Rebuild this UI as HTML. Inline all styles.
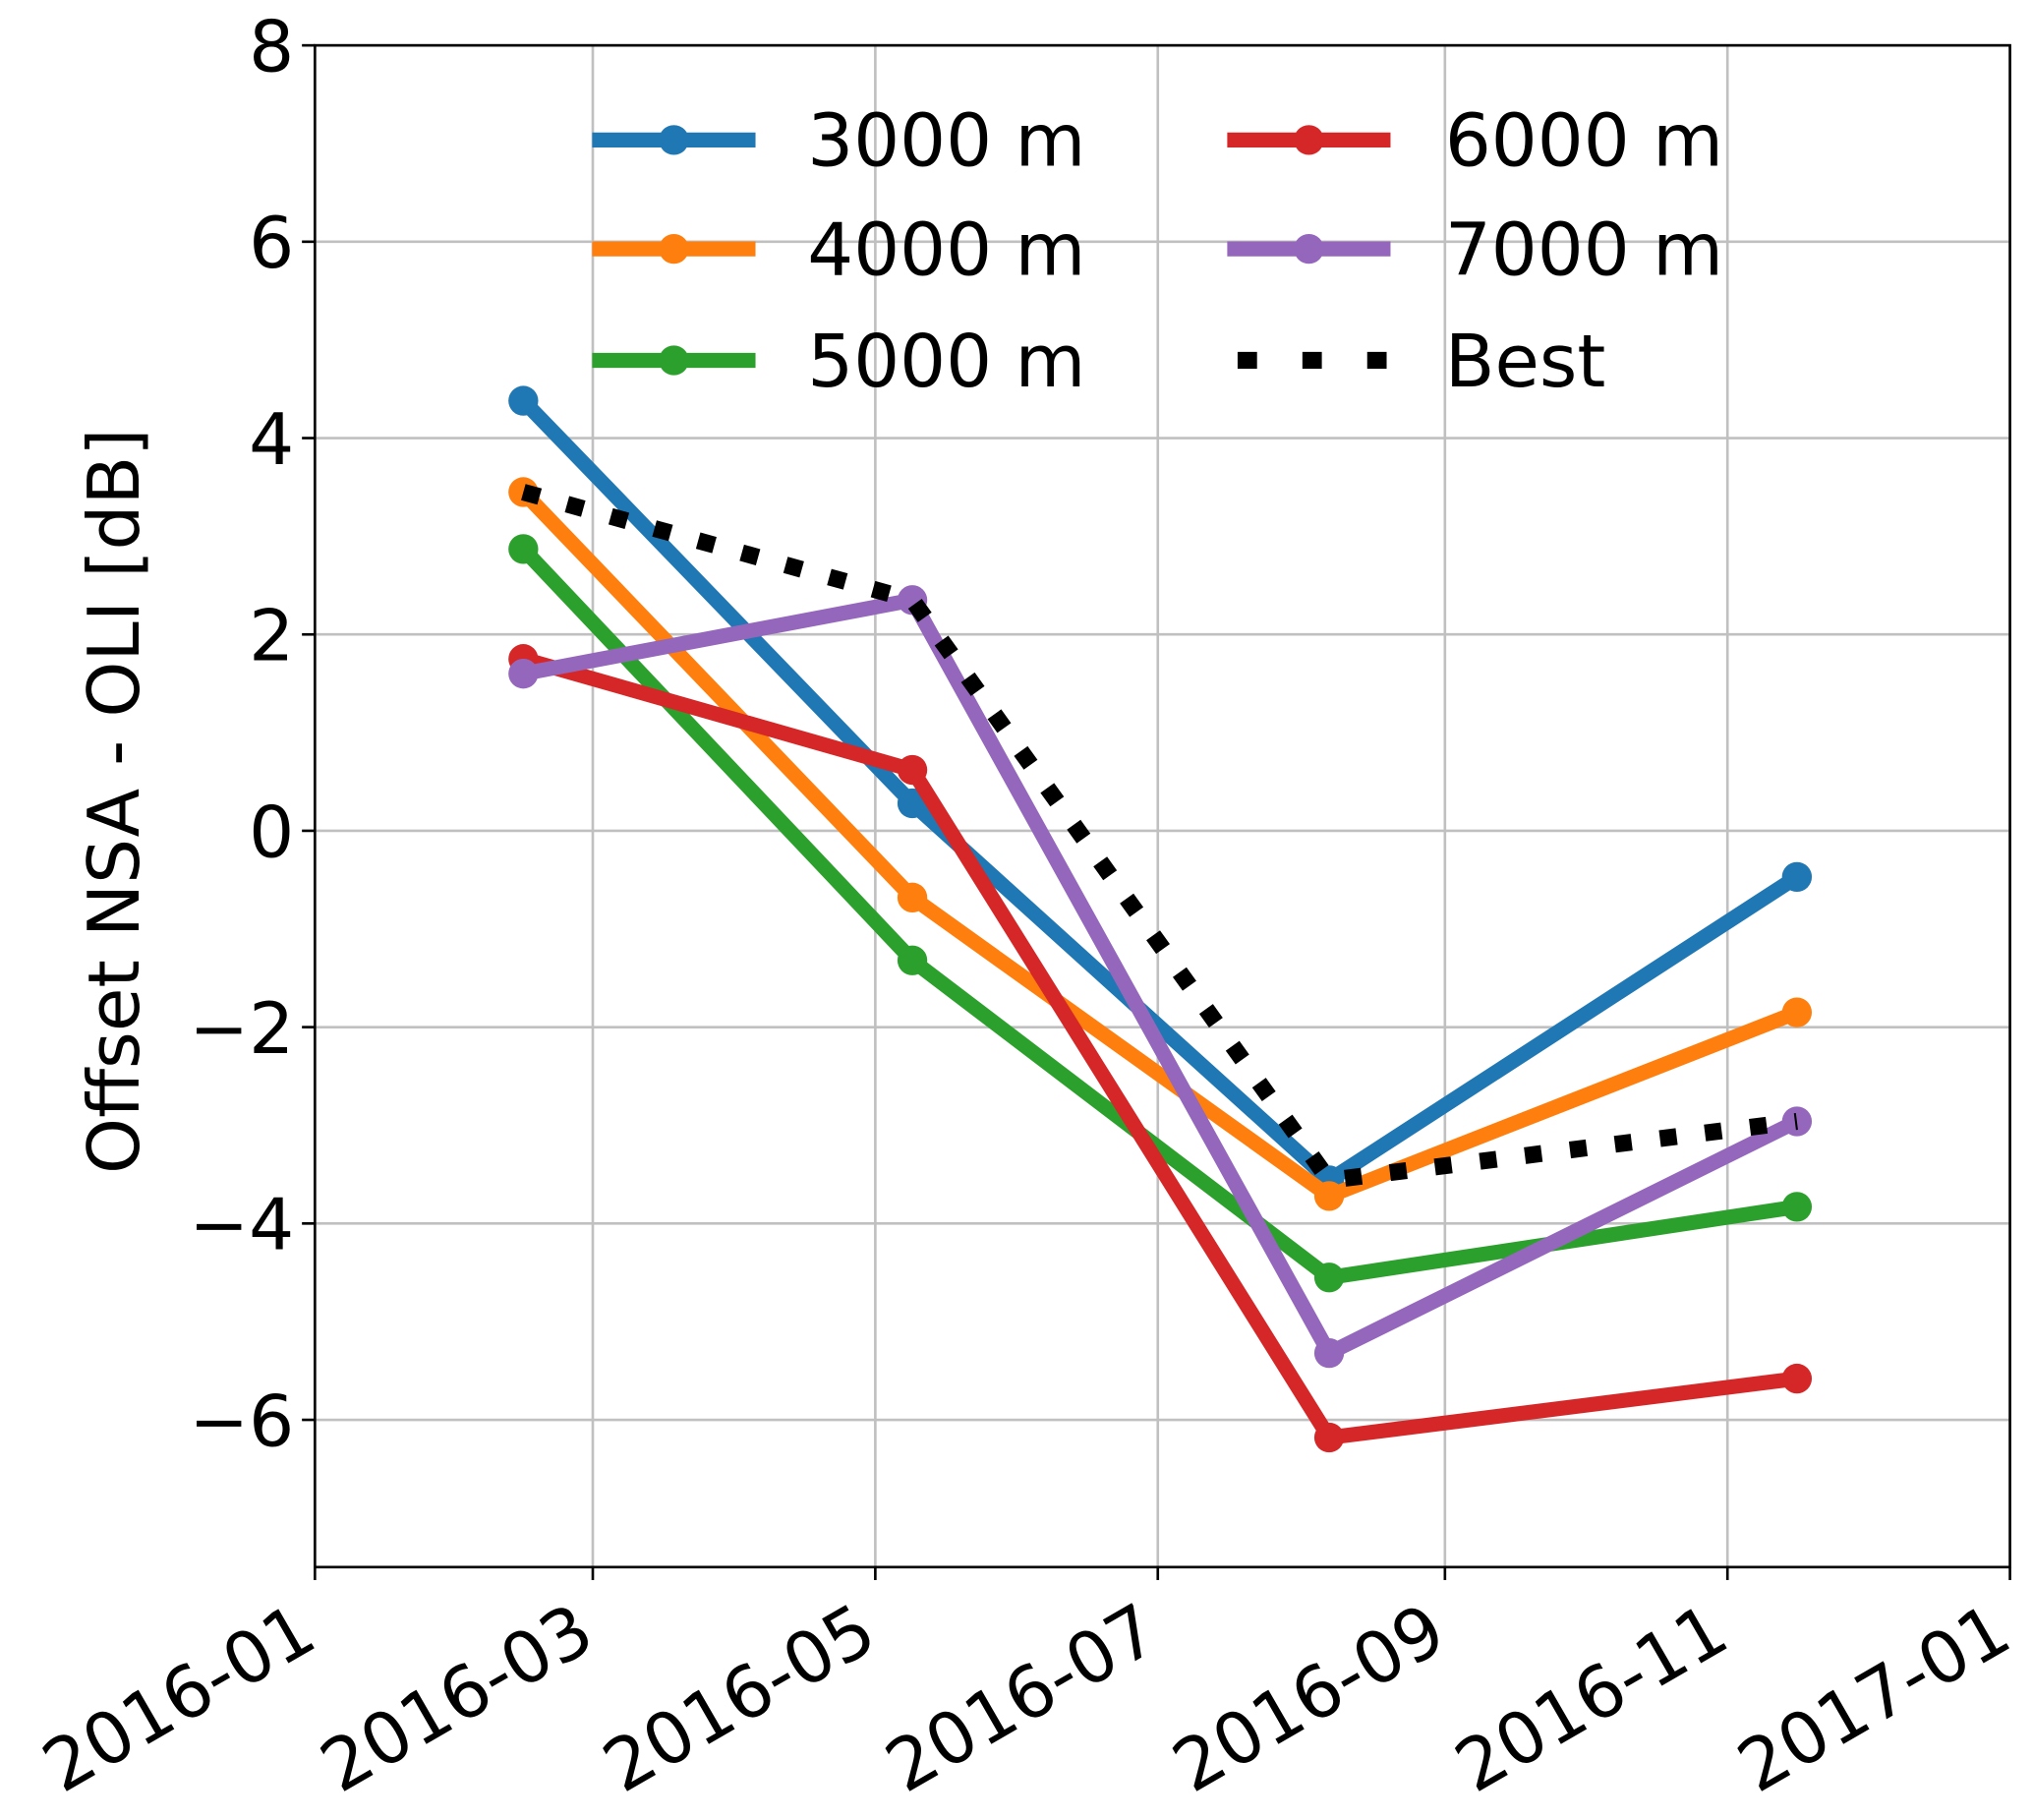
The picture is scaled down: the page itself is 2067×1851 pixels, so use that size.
<!DOCTYPE html>
<html><head><meta charset="utf-8"><style>
html,body{margin:0;padding:0;background:#fff;}
svg{display:block;font-family:"DejaVu Sans","Liberation Sans",sans-serif;}
</style></head><body>
<svg id="chart" width="2067" height="1851" viewBox="0 0 1568 1404.1" preserveAspectRatio="none" xmlns="http://www.w3.org/2000/svg">
<g id="grid"></g>
<g id="series"></g>
<g id="axes"></g>
<g id="legend"></g>
<text x="0" y="0" transform="translate(107,618) rotate(-90)" text-anchor="middle" font-size="55">Offset NSA - OLI [dB]</text>
</svg>
<script>
const dates = ["2016-02-15","2016-05-09","2016-08-07","2016-11-16"];
const s3000 = [4.38, 0.28, -3.56, -0.47];
const s4000 = [3.45, -0.68, -3.72, -1.85];
const s5000 = [2.87, -1.32, -4.55, -3.83];
const s6000 = [1.75, 0.62, -6.18, -5.58];
const s7000 = [1.6, 2.35, -5.32, -2.96];
const sBest = [3.45, 2.35, -3.56, -2.96];
const yTicks = [-6, -4, -2, 0, 2, 4, 6, 8];
const yTickLabels = ["\u22126","\u22124","\u22122","0","2","4","6","8"];
const xTicks = ["2016-01-01","2016-03-01","2016-05-01","2016-07-01","2016-09-01","2016-11-01","2017-01-01"];
const xTickLabels = ["2016-01","2016-03","2016-05","2016-07","2016-09","2016-11","2017-01"];
const seriesNames = ["3000 m","4000 m","5000 m","6000 m","7000 m","Best"];

const L=243,R=1551,T=35,B=1209;
const x0=Date.UTC(2016,0,1), x1=Date.UTC(2017,0,1);
const ymin=-7.5,ymax=8;
function xs(d){const t=Date.parse(d+"T00:00:00Z");return L+(t-x0)/(x1-x0)*(R-L);}
function ys(v){return B-(v-ymin)/(ymax-ymin)*(B-T);}
const NS="http://www.w3.org/2000/svg";
function mk(tag,parent,attrs){const e=document.createElementNS(NS,tag);for(const k in attrs)e.setAttribute(k,attrs[k]);parent.appendChild(e);return e;}
const grid=document.getElementById('grid'),axes=document.getElementById('axes'),ser=document.getElementById('series'),leg=document.getElementById('legend');

yTicks.forEach((v,i)=>{
  const y=ys(v);
  const g=mk('line',grid,{x1:L,x2:R,y1:y,y2:y,stroke:'#c0c0c0','stroke-width':2});
  
  
  const t=mk('line',axes,{x1:L-10,x2:L,y1:y,y2:y,stroke:'#000','stroke-width':2});
  
  
  const tx=mk('text',axes,{x:L-16,y:y+20,'text-anchor':'end','font-size':55});
  tx.textContent=yTickLabels[i];
  
  
});
xTicks.forEach((d,i)=>{
  const x=xs(d);
  const g=mk('line',grid,{x1:x,x2:x,y1:T,y2:B,stroke:'#c0c0c0','stroke-width':2});
  
  
  const t=mk('line',axes,{x1:x,x2:x,y1:B,y2:B+10,stroke:'#000','stroke-width':2});
  
  
  const tx=mk('text',axes,{x:0,y:0,'text-anchor':'end','font-size':55,transform:`translate(${x+4},${B+60}) rotate(-30)`});
  tx.textContent=xTickLabels[i];
  
  
});
const frame=mk('rect',axes,{x:L,y:T,width:R-L,height:B-T,fill:'none',stroke:'#000','stroke-width':2});



const all=[s3000,s4000,s5000,s6000,s7000];
const colors=["#1f77b4","#ff7f0e","#2ca02c","#d62728","#9467bd"];
all.forEach((s,k)=>{
  const pts=s.map((v,i)=>xs(dates[i])+','+ys(v)).join(' ');
  const pl=mk('polyline',ser,{points:pts,fill:'none',stroke:colors[k],'stroke-width':11.5,'stroke-linejoin':'round','stroke-linecap':'round'});
  
  
  s.forEach((v,i)=>{
    const c=mk('circle',ser,{cx:xs(dates[i]),cy:ys(v),r:11.5,fill:colors[k]});
    
    
  });
});
const bp=sBest.map((v,i)=>xs(dates[i])+','+ys(v)).join(' ');
const best=mk('polyline',ser,{points:bp,fill:'none',stroke:'#000','stroke-width':13,'stroke-dasharray':'13 22'});



const rows=[108,192,278];
seriesNames.forEach((n,k)=>{
  const col=k<3?0:1,row=k%3;
  const lx=col?947:457,tx=col?1115:623,y=rows[row];
  const g=mk('g',leg,{});
  
  
  if(k<5){
    mk('line',g,{x1:lx,x2:lx+126,y1:y,y2:y,stroke:colors[k],'stroke-width':11.5});
    mk('circle',g,{cx:lx+63,cy:y,r:11.5,fill:colors[k]});
  } else {
    mk('line',g,{x1:lx+8,x2:lx+126,y1:y,y2:y,stroke:'#000','stroke-width':13,'stroke-dasharray':'15 35'});
  }
  const t=mk('text',g,{x:tx,y:y+20,'font-size':56});
  t.textContent=n;
});
</script>
</body></html>
